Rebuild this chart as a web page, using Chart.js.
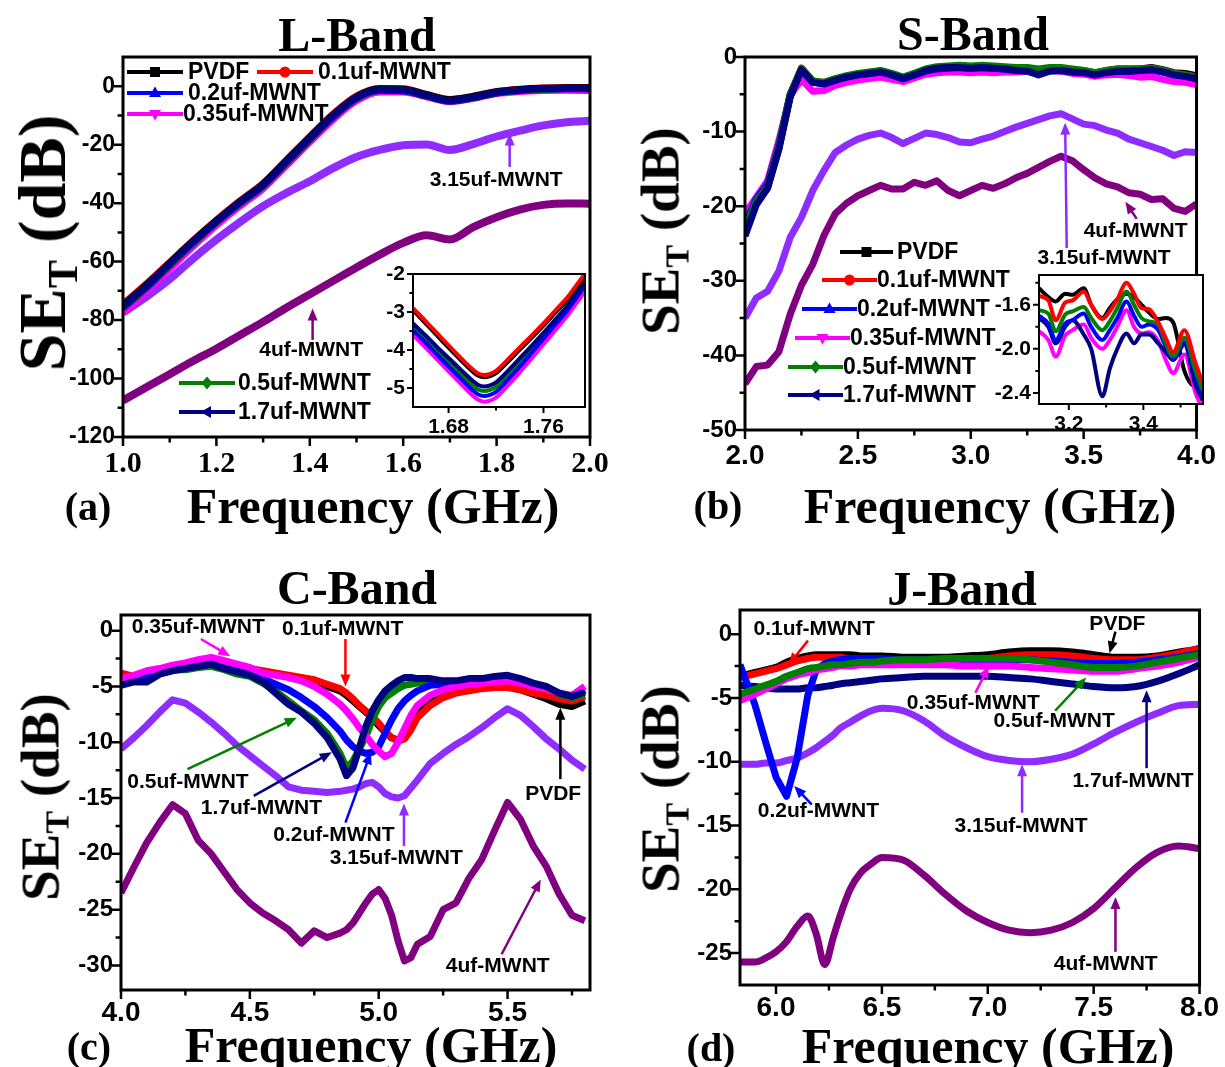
<!DOCTYPE html>
<html>
<head>
<meta charset="utf-8">
<script src="https://cdn.jsdelivr.net/npm/chart.js@4.4.1/dist/chart.umd.min.js"></script>
<style>
  body { margin: 0; background: #fff; }
  #page { position: relative; width: 1225px; height: 1067px; overflow: hidden; background: #fff; }
  canvas { position: absolute; left: 0; top: 0; }
  .t { position: absolute; font-family: "Liberation Serif", "Times New Roman", serif; font-weight: bold;
       color: #000; white-space: nowrap; line-height: 1; transform: translate(-50%, -50%); }
  .yt { transform: translate(-50%, -50%) rotate(-90deg); }
  .yt sub { font-size: 0.62em; vertical-align: -0.28em; line-height: 0; }
</style>
</head>
<body>
<div id="page">
  <canvas id="cA" width="1225" height="1067"></canvas>
  <canvas id="cB" width="1225" height="1067"></canvas>
  <canvas id="cC" width="1225" height="1067"></canvas>
  <canvas id="cD" width="1225" height="1067"></canvas>
  <canvas id="cAi" width="1225" height="1067"></canvas>
  <canvas id="cBi" width="1225" height="1067"></canvas>

  <div class="t" style="left:357px;top:35px;font-size:48px">L-Band</div>
  <div class="t" style="left:973px;top:34px;font-size:48px">S-Band</div>
  <div class="t" style="left:357px;top:588px;font-size:48px">C-Band</div>
  <div class="t" style="left:962px;top:589px;font-size:48px">J-Band</div>

  <div class="t" style="left:373px;top:506px;font-size:50px">Frequency (GHz)</div>
  <div class="t" style="left:990px;top:506px;font-size:50px">Frequency (GHz)</div>
  <div class="t" style="left:371px;top:1045px;font-size:50px">Frequency (GHz)</div>
  <div class="t" style="left:988px;top:1046px;font-size:50px">Frequency (GHz)</div>

  <div class="t" style="left:88px;top:507px;font-size:40px">(a)</div>
  <div class="t" style="left:718px;top:506px;font-size:40px">(b)</div>
  <div class="t" style="left:89px;top:1047px;font-size:40px">(c)</div>
  <div class="t" style="left:711px;top:1048px;font-size:40px">(d)</div>

  <div class="t yt" style="left:42px;top:243px;font-size:68px">SE<sub>T</sub> (dB)</div>
  <div class="t yt" style="left:660px;top:231px;font-size:55px">SE<sub>T</sub> (dB)</div>
  <div class="t yt" style="left:40px;top:797px;font-size:55px">SE<sub>T</sub> (dB)</div>
  <div class="t yt" style="left:660px;top:789px;font-size:55px">SE<sub>T</sub> (dB)</div>
</div>

<script>
// ---------- data ----------

// (a) L-Band
const aFreq = [1.00, 1.05, 1.10, 1.15, 1.20, 1.25, 1.30, 1.35, 1.40, 1.45, 1.50, 1.55, 1.60, 1.65, 1.70, 1.75, 1.80, 1.85, 1.90, 1.95, 2.00];
const aPVDF = [-75.0, -68.0, -60.5, -53.0, -46.0, -39.5, -33.5, -25.5, -17.5, -9.8, -3.6, -0.9, -1.0, -2.9, -4.6, -3.5, -1.9, -1.1, -0.7, -0.5, -0.5];
const a01 = [-74.5, -67.6, -60.2, -52.8, -45.8, -39.3, -33.2, -25.2, -17.2, -9.5, -3.4, -0.8, -0.9, -2.8, -4.5, -3.4, -1.8, -1.0, -0.6, -0.4, -0.4];
const a02 = [-76.0, -69.0, -61.3, -53.8, -46.6, -40.2, -34.2, -26.3, -18.3, -10.6, -4.3, -1.5, -1.6, -3.4, -5.1, -4.0, -2.3, -1.5, -1.1, -0.9, -0.9];
const a035 = [-77.5, -70.3, -62.5, -54.8, -47.6, -41.1, -35.0, -27.1, -19.1, -11.4, -5.0, -2.0, -2.0, -3.6, -5.3, -4.2, -2.5, -1.8, -1.5, -1.4, -1.5];
const a05 = [-75.8, -68.8, -61.1, -53.6, -46.5, -40.0, -34.0, -26.0, -18.0, -10.3, -4.1, -1.3, -1.4, -3.3, -5.0, -3.9, -2.2, -1.4, -1.0, -0.8, -0.8];
const a17 = [-75.5, -68.5, -60.8, -53.3, -46.3, -39.8, -33.8, -25.8, -17.8, -10.1, -3.9, -1.2, -1.3, -3.2, -4.9, -3.8, -2.1, -1.3, -0.9, -0.7, -0.7];
const a315 = [-77.5, -72.0, -66.0, -59.0, -52.5, -46.5, -41.0, -36.5, -32.5, -28.0, -24.2, -21.8, -20.2, -19.9, -21.8, -19.8, -17.2, -15.2, -13.4, -12.3, -11.8];
const a4 = [-107.5, -103.0, -98.5, -94.0, -89.8, -85.2, -80.6, -75.8, -71.2, -66.6, -62.0, -57.6, -53.6, -51.0, -52.4, -48.2, -44.8, -42.2, -40.6, -40.1, -40.2];

// (a) inset, dip near 1.71 GHz
const iaFreq = [1.65, 1.66, 1.67, 1.68, 1.69, 1.70, 1.705, 1.71, 1.715, 1.72, 1.73, 1.74, 1.75, 1.76, 1.77, 1.78, 1.79, 1.795];
const iaPVDF = [-2.95, -3.28, -3.61, -3.94, -4.26, -4.56, -4.68, -4.72, -4.69, -4.61, -4.31, -3.99, -3.68, -3.36, -3.02, -2.68, -2.26, -2.06];
const ia01 = [-2.90, -3.22, -3.55, -3.88, -4.20, -4.50, -4.62, -4.66, -4.63, -4.55, -4.25, -3.93, -3.62, -3.30, -2.96, -2.62, -2.20, -2.00];
const ia02 = [-3.48, -3.79, -4.11, -4.43, -4.74, -5.05, -5.17, -5.21, -5.18, -5.10, -4.78, -4.44, -4.07, -3.70, -3.33, -2.96, -2.53, -2.30];
const ia035 = [-3.60, -3.92, -4.24, -4.56, -4.88, -5.19, -5.31, -5.36, -5.33, -5.25, -4.93, -4.59, -4.22, -3.85, -3.48, -3.10, -2.67, -2.45];
const ia05 = [-3.40, -3.70, -4.01, -4.32, -4.62, -4.92, -5.04, -5.08, -5.05, -4.97, -4.66, -4.33, -3.99, -3.65, -3.29, -2.93, -2.51, -2.30];
const ia17 = [-3.30, -3.60, -3.91, -4.21, -4.51, -4.80, -4.92, -4.96, -4.93, -4.85, -4.55, -4.22, -3.89, -3.55, -3.20, -2.84, -2.42, -2.20];

// (b) S-Band
const bFreq = [2.00, 2.05, 2.10, 2.15, 2.20, 2.25, 2.30, 2.35, 2.40, 2.45, 2.50, 2.55, 2.60, 2.65, 2.70, 2.75, 2.80, 2.85, 2.90, 2.95,
               3.00, 3.05, 3.10, 3.15, 3.20, 3.25, 3.30, 3.35, 3.40, 3.45, 3.50, 3.55, 3.60, 3.65, 3.70, 3.75, 3.80, 3.85, 3.90, 3.95, 4.00];
const bPVDF = [-23.5, -19.5, -17.5, -12.2, -5.3, -1.6, -3.3, -3.5, -3.0, -2.6, -2.3, -2.1, -1.9, -2.3, -2.8, -2.3, -1.7, -1.4, -1.3, -1.2,
               -1.3, -1.2, -1.3, -1.4, -1.5, -1.5, -1.8, -1.6, -1.6, -1.8, -1.9, -2.2, -1.8, -1.6, -1.6, -1.6, -1.4, -1.7, -2.1, -2.2, -2.5];
const b01 = [-23.0, -19.2, -17.2, -12.0, -5.0, -1.5, -3.2, -3.4, -3.0, -2.6, -2.3, -2.1, -1.9, -2.3, -2.8, -2.2, -1.7, -1.4, -1.3, -1.2,
             -1.3, -1.2, -1.3, -1.4, -1.5, -1.5, -1.8, -1.5, -1.5, -1.7, -1.8, -2.1, -1.9, -1.7, -1.7, -1.6, -1.5, -1.8, -2.2, -2.4, -2.7];
const b02 = [-22.5, -19.0, -17.0, -11.8, -5.0, -1.7, -3.4, -3.6, -3.1, -2.7, -2.4, -2.2, -2.0, -2.4, -2.9, -2.4, -1.9, -1.6, -1.5, -1.4,
             -1.5, -1.4, -1.5, -1.6, -1.7, -1.7, -2.0, -1.8, -1.8, -1.9, -2.0, -2.3, -2.0, -1.9, -1.9, -1.8, -1.7, -2.0, -2.4, -2.6, -2.9];
const b035 = [-21.0, -18.8, -16.6, -11.2, -5.2, -3.0, -4.6, -4.5, -3.8, -3.4, -3.1, -2.9, -2.7, -3.0, -3.3, -2.8, -2.3, -2.1, -2.0, -2.0,
              -2.1, -2.0, -2.1, -2.0, -2.0, -1.9, -2.1, -1.8, -1.9, -2.2, -2.3, -2.6, -2.4, -2.3, -2.5, -2.7, -2.6, -3.0, -3.3, -3.4, -3.7];
const b05 = [-23.0, -19.3, -17.4, -12.0, -5.1, -1.5, -3.2, -3.4, -2.9, -2.5, -2.2, -2.0, -1.8, -2.2, -2.7, -2.2, -1.6, -1.3, -1.2, -1.1,
             -1.2, -1.1, -1.2, -1.3, -1.4, -1.4, -1.6, -1.4, -1.4, -1.6, -1.8, -2.1, -1.8, -1.6, -1.6, -1.6, -1.5, -1.8, -2.2, -2.4, -2.7];
const b17 = [-24.0, -19.8, -17.6, -12.4, -5.4, -1.7, -3.4, -3.6, -3.1, -2.7, -2.4, -2.2, -2.0, -2.4, -2.9, -2.4, -1.8, -1.5, -1.4, -1.4,
             -1.5, -1.4, -1.5, -1.6, -1.8, -1.9, -2.4, -1.9, -1.8, -2.0, -2.1, -2.4, -2.1, -1.9, -1.9, -1.8, -1.7, -2.0, -2.4, -2.6, -2.9];
const b315 = [-35.0, -32.3, -31.4, -28.7, -24.2, -21.5, -17.9, -15.2, -12.8, -11.8, -11.0, -10.5, -10.2, -10.8, -11.6, -10.9, -10.2, -10.4, -10.8, -11.4,
              -11.5, -11.0, -10.6, -10.0, -9.4, -8.9, -8.4, -7.9, -7.6, -8.3, -9.0, -9.2, -9.8, -10.2, -11.0, -11.5, -12.0, -12.5, -13.2, -12.7, -12.8];
const b4 = [-43.8, -41.5, -41.3, -39.5, -34.5, -30.6, -27.8, -23.9, -21.0, -19.6, -18.6, -17.9, -17.2, -17.7, -17.7, -16.8, -17.2, -16.6, -17.9, -18.6,
            -17.9, -17.2, -17.6, -17.0, -16.2, -15.6, -14.8, -14.0, -13.3, -13.9, -15.1, -16.2, -17.0, -17.4, -18.2, -18.4, -19.1, -19.0, -20.3, -20.7, -19.7];

// (b) inset, 3.12 - 3.56 GHz
const ibFreq = [3.12, 3.145, 3.165, 3.19, 3.21, 3.24, 3.26, 3.29, 3.31, 3.33, 3.355, 3.375, 3.395, 3.415, 3.44, 3.46, 3.48, 3.51, 3.54, 3.56];
const ibPVDF = [-1.45, -1.53, -1.57, -1.50, -1.51, -1.45, -1.60, -1.72, -1.63, -1.55, -1.50, -1.53, -1.60, -1.67, -1.73, -1.72, -1.76, -2.20, -2.34, -2.31];
const ib01 = [-1.52, -1.56, -1.74, -1.58, -1.56, -1.48, -1.60, -1.73, -1.66, -1.55, -1.40, -1.50, -1.63, -1.64, -1.76, -1.90, -2.03, -1.83, -2.13, -2.32];
const ib02 = [-1.70, -1.77, -1.92, -1.77, -1.74, -1.68, -1.80, -1.92, -1.83, -1.72, -1.57, -1.70, -1.80, -1.78, -1.83, -1.98, -2.10, -1.94, -2.24, -2.44];
const ib035 = [-1.84, -1.92, -2.07, -1.88, -1.83, -1.78, -1.90, -2.00, -1.92, -1.80, -1.65, -1.80, -1.86, -1.85, -1.93, -2.10, -2.22, -2.05, -2.40, -2.55];
const ib05 = [-1.65, -1.68, -1.84, -1.69, -1.66, -1.62, -1.72, -1.83, -1.75, -1.63, -1.48, -1.60, -1.72, -1.75, -1.78, -1.95, -2.07, -1.90, -2.20, -2.38];
const ib17 = [-1.72, -1.80, -1.95, -1.80, -1.74, -1.87, -2.00, -2.43, -2.18, -2.00, -1.86, -1.95, -1.87, -1.87, -1.95, -2.03, -2.10, -1.96, -2.33, -2.47];

// (c) C-Band
const cFreq = [4.00, 4.05, 4.10, 4.15, 4.20, 4.25, 4.30, 4.35, 4.40, 4.45, 4.50, 4.55, 4.60, 4.65, 4.70, 4.75, 4.80, 4.85,
               4.875, 4.90, 4.925, 4.95, 4.975, 5.00, 5.025, 5.05, 5.075, 5.10, 5.125, 5.15,
               5.20, 5.25, 5.30, 5.35, 5.40, 5.45, 5.50, 5.55, 5.60, 5.65, 5.70, 5.75, 5.80];
const cPVDF = [-3.9, -4.2, -3.9, -3.7, -3.5, -3.3, -3.2, -3.1, -3.3, -3.5, -3.5, -3.7, -3.9, -4.1, -4.3, -4.6, -5.0, -5.4,
               -5.8, -6.3, -6.8, -7.3, -7.8, -8.5, -9.1, -9.6, -9.8, -9.4, -8.5, -7.5,
               -6.4, -5.8, -5.5, -5.3, -5.1, -5.0, -5.0, -5.3, -5.7, -6.1, -6.6, -6.8, -6.3];
const c01 = [-3.8, -4.1, -3.8, -3.6, -3.4, -3.2, -3.1, -3.0, -3.2, -3.4, -3.4, -3.6, -3.8, -4.0, -4.2, -4.4, -4.8, -5.2,
             -5.6, -6.1, -6.7, -7.2, -7.7, -8.3, -9.0, -9.6, -9.9, -9.7, -8.9, -7.8,
             -6.7, -6.0, -5.6, -5.4, -5.2, -5.1, -5.1, -5.3, -5.6, -5.8, -6.1, -6.3, -5.9];
const c02 = [-4.5, -4.3, -4.0, -3.7, -3.4, -3.3, -3.2, -3.0, -3.3, -3.6, -3.9, -4.3, -4.8, -5.3, -6.0, -6.8, -7.8, -9.0,
             -9.8, -10.4, -10.8, -11.0, -10.9, -10.4, -9.2, -8.0, -7.0, -6.3, -5.8, -5.4,
             -4.9, -4.8, -4.7, -4.6, -4.5, -4.4, -4.3, -4.5, -4.8, -5.1, -5.6, -5.9, -5.3];
const c035 = [-4.3, -4.0, -3.6, -3.4, -3.1, -2.9, -2.6, -2.4, -2.7, -3.0, -3.3, -3.8, -4.0, -4.2, -4.5, -5.0, -5.7, -6.6,
              -7.2, -7.9, -8.7, -9.4, -10.2, -10.8, -11.3, -11.0, -10.0, -8.8, -7.6, -6.7,
              -5.8, -5.3, -5.0, -4.8, -4.7, -4.6, -4.5, -4.7, -5.0, -5.2, -5.6, -5.8, -5.0];
const c05 = [-4.6, -4.5, -4.4, -3.8, -3.5, -3.5, -3.3, -3.2, -3.5, -3.9, -4.1, -4.7, -5.4, -6.3, -7.2, -8.0, -9.2, -11.0,
             -12.3, -11.7, -10.6, -9.5, -8.0, -6.8, -6.0, -5.6, -5.2, -4.9, -4.8, -4.7,
             -4.6, -4.7, -4.6, -4.5, -4.4, -4.3, -4.3, -4.5, -4.8, -5.1, -5.7, -6.0, -5.7];
const c17 = [-4.9, -4.6, -4.6, -3.9, -3.6, -3.4, -3.2, -3.0, -3.4, -3.7, -4.0, -4.6, -5.6, -6.6, -7.3, -8.3, -9.6, -11.5,
             -13.0, -12.3, -10.5, -8.6, -7.2, -6.2, -5.4, -4.9, -4.5, -4.2, -4.2, -4.3,
             -4.3, -4.5, -4.5, -4.3, -4.3, -4.1, -4.0, -4.3, -4.7, -5.0, -5.6, -5.9, -5.5];
const c315 = [-10.6, -9.6, -8.5, -7.3, -6.2, -6.5, -7.3, -8.2, -9.2, -10.3, -11.2, -12.1, -13.0, -14.0, -14.3, -14.4, -14.5, -14.4,
              -14.3, -14.2, -14.0, -13.7, -13.6, -14.0, -14.6, -14.9, -15.0, -14.8, -14.1, -13.4,
              -11.9, -11.0, -10.2, -9.5, -8.7, -7.8, -7.0, -7.6, -8.6, -9.7, -10.6, -11.6, -12.4];
const c4 = [-23.5, -21.2, -19.0, -17.2, -15.6, -16.4, -18.8, -20.0, -21.6, -23.2, -24.4, -25.3, -26.0, -26.8, -28.0, -26.9, -27.5, -27.1,
            -26.8, -26.2, -25.3, -24.4, -23.6, -23.2, -24.0, -25.5, -27.8, -29.6, -29.3, -28.1,
            -27.4, -25.0, -24.4, -22.2, -20.5, -17.9, -15.4, -16.9, -19.3, -21.1, -23.6, -25.5, -26.0];

// (d) J-Band
const dFreq = [5.83, 5.90, 5.95, 6.00, 6.05, 6.10, 6.15, 6.19, 6.23, 6.27, 6.30, 6.35, 6.40, 6.45, 6.50,
               6.60, 6.70, 6.80, 6.90, 7.00, 7.10, 7.20, 7.30, 7.40, 7.50, 7.60, 7.70, 7.80, 7.90, 8.00];
const dPVDF = [-3.3, -3.0, -2.8, -2.6, -2.2, -1.9, -1.7, -1.6, -1.6, -1.6, -1.6, -1.6, -1.7, -1.7, -1.7,
               -1.8, -1.8, -1.8, -1.7, -1.6, -1.4, -1.3, -1.3, -1.4, -1.6, -1.8, -1.8, -1.7, -1.4, -1.2];
const d01 = [-3.4, -3.1, -2.9, -2.7, -2.4, -2.1, -1.9, -1.8, -1.8, -1.8, -1.8, -1.9, -1.9, -2.0, -2.0,
             -2.1, -2.1, -2.1, -2.0, -1.9, -1.7, -1.6, -1.6, -1.7, -1.9, -2.0, -2.0, -1.8, -1.5, -1.1];
const d02 = [-2.4, -5.5, -8.4, -11.2, -12.7, -9.7, -4.8, -2.8, -2.3, -2.1, -2.0, -1.9, -1.9, -1.9, -1.9,
             -2.0, -2.0, -2.1, -2.1, -2.1, -2.0, -2.0, -2.1, -2.2, -2.3, -2.3, -2.2, -2.0, -1.8, -1.5];
const d035 = [-5.2, -4.7, -4.3, -3.9, -3.5, -3.2, -3.0, -2.8, -2.7, -2.6, -2.5, -2.5, -2.4, -2.4, -2.4,
              -2.4, -2.4, -2.4, -2.5, -2.5, -2.5, -2.6, -2.7, -2.8, -2.9, -2.9, -2.7, -2.5, -2.2, -1.8];
const d05 = [-4.7, -4.3, -4.0, -3.7, -3.3, -3.0, -2.7, -2.6, -2.5, -2.4, -2.4, -2.3, -2.2, -2.2, -2.1,
             -2.0, -2.0, -1.9, -1.9, -1.9, -1.9, -2.0, -2.2, -2.4, -2.6, -2.6, -2.5, -2.2, -1.9, -1.6];
const d17 = [-4.0, -4.1, -4.2, -4.3, -4.3, -4.3, -4.2, -4.2, -4.1, -4.0, -3.9, -3.8, -3.7, -3.6, -3.5,
             -3.4, -3.3, -3.3, -3.3, -3.3, -3.4, -3.5, -3.7, -3.9, -4.1, -4.2, -4.1, -3.7, -3.1, -2.4];
const d315 = [-10.2, -10.2, -10.1, -10.1, -9.9, -9.7, -9.3, -8.9, -8.4, -7.9, -7.4, -6.9, -6.4, -6.0, -5.8,
              -6.0, -6.8, -8.0, -8.9, -9.6, -9.9, -10.0, -9.8, -9.4, -8.6, -7.7, -6.9, -6.2, -5.6, -5.5];
const d4 = [-25.7, -25.7, -25.4, -24.9, -24.1, -22.9, -22.1, -23.5, -25.9, -23.8, -22.2, -20.0, -18.7, -18.0, -17.5,
            -17.7, -18.9, -20.4, -21.7, -22.6, -23.2, -23.4, -23.2, -22.6, -21.5, -19.9, -18.3, -17.1, -16.6, -16.8];

// ---------- styles ----------
const W = 1225, H = 1067;
const SANS = '"Liberation Sans", Arial, sans-serif';
const SERIF = '"Liberation Serif", "Times New Roman", serif';
const C = {
  pvdf: '#000000', m01: '#ff0000', m02: '#0000ff', m035: '#ff00ff',
  m05: '#008000', m17: '#000080', m315: '#8f2cff', m4: '#800080'
};

function series(label, xs, ys, color, width, order, smooth) {
  return {
    label,
    data: xs.map((x, i) => ({ x, y: ys[i] })),
    borderColor: color,
    backgroundColor: color,
    borderWidth: width,
    pointRadius: 0,
    order,
    fill: false,
    borderJoinStyle: 'round',
    cubicInterpolationMode: smooth ? 'monotone' : 'default',
    tension: 0
  };
}

function marker(ctx, style, x, y, r, color) {
  ctx.fillStyle = color;
  ctx.beginPath();
  if (style === 'square') ctx.rect(x - r, y - r, 2 * r, 2 * r);
  else if (style === 'circle') ctx.arc(x, y, r * 1.1, 0, Math.PI * 2);
  else if (style === 'up') { ctx.moveTo(x, y - r * 1.3); ctx.lineTo(x + r * 1.2, y + r * 0.8); ctx.lineTo(x - r * 1.2, y + r * 0.8); }
  else if (style === 'down') { ctx.moveTo(x, y + r * 1.3); ctx.lineTo(x + r * 1.2, y - r * 0.8); ctx.lineTo(x - r * 1.2, y - r * 0.8); }
  else if (style === 'diamond') { ctx.moveTo(x, y - r * 1.3); ctx.lineTo(x + r * 1.1, y); ctx.lineTo(x, y + r * 1.3); ctx.lineTo(x - r * 1.1, y); }
  else if (style === 'left') { ctx.moveTo(x - r * 1.3, y); ctx.lineTo(x + r * 0.8, y - r * 1.2); ctx.lineTo(x + r * 0.8, y + r * 1.2); }
  ctx.closePath();
  ctx.fill();
}

function arrow(ctx, x1, y1, x2, y2, color) {
  const ang = Math.atan2(y2 - y1, x2 - x1);
  const hl = 12, hw = 5;
  ctx.strokeStyle = color;
  ctx.fillStyle = color;
  ctx.lineWidth = 2.5;
  ctx.beginPath();
  ctx.moveTo(x1, y1);
  ctx.lineTo(x2 - Math.cos(ang) * hl * 0.8, y2 - Math.sin(ang) * hl * 0.8);
  ctx.stroke();
  ctx.beginPath();
  ctx.moveTo(x2, y2);
  ctx.lineTo(x2 - Math.cos(ang) * hl + Math.sin(ang) * hw, y2 - Math.sin(ang) * hl - Math.cos(ang) * hw);
  ctx.lineTo(x2 - Math.cos(ang) * hl - Math.sin(ang) * hw, y2 - Math.sin(ang) * hl + Math.cos(ang) * hw);
  ctx.closePath();
  ctx.fill();
}

function makeChart(id, cfg) {
  const a = cfg.area;
  const deco = {
    id: 'deco',
    beforeDraw(chart) {
      if (!cfg.inset) return;
      const ctx = chart.ctx, ca = chart.chartArea;
      ctx.save();
      ctx.fillStyle = '#fff';
      ctx.fillRect(ca.left, ca.top, ca.right - ca.left, ca.bottom - ca.top);
      ctx.restore();
    },
    afterDatasetsDraw(chart) {
      const ctx = chart.ctx, ca = chart.chartArea;
      const xs = chart.scales.x, ys = chart.scales.y;
      ctx.save();
      ctx.strokeStyle = '#000';
      ctx.lineWidth = cfg.frame;
      ctx.strokeRect(ca.left, ca.top, ca.right - ca.left, ca.bottom - ca.top);
      ctx.lineWidth = cfg.tickW;
      ctx.beginPath();
      const tick = (list, len, isX) => list.forEach(v => {
        if (isX) { const px = xs.getPixelForValue(v); ctx.moveTo(px, ca.bottom); ctx.lineTo(px, ca.bottom + len); }
        else { const py = ys.getPixelForValue(v); ctx.moveTo(ca.left, py); ctx.lineTo(ca.left - len, py); }
      });
      tick(cfg.x.major, cfg.tickLen, true);
      tick(cfg.x.minor, cfg.tickLen * 0.6, true);
      tick(cfg.y.major, cfg.tickLen, false);
      tick(cfg.y.minor, cfg.tickLen * 0.6, false);
      ctx.stroke();
      ctx.restore();
    },
    afterDraw(chart) {
      const ctx = chart.ctx;
      const xs = chart.scales.x, ys = chart.scales.y;
      ctx.save();
      ctx.textBaseline = 'middle';
      (cfg.legend || []).forEach(it => {
        const col = C[it.key];
        ctx.strokeStyle = col;
        ctx.lineWidth = 4;
        ctx.beginPath();
        ctx.moveTo(it.x1, it.y);
        ctx.lineTo(it.x2, it.y);
        ctx.stroke();
        marker(ctx, it.style, (it.x1 + it.x2) / 2, it.y, 5, col);
        ctx.fillStyle = '#000';
        ctx.font = 'bold 23px ' + SANS;
        ctx.textAlign = 'left';
        ctx.fillText(it.text, it.tx, it.y + 1);
      });
      (cfg.notes || []).forEach(n => {
        arrow(ctx, xs.getPixelForValue(n.from[0]), ys.getPixelForValue(n.from[1]),
              xs.getPixelForValue(n.to[0]), ys.getPixelForValue(n.to[1]), C[n.key]);
        ctx.fillStyle = '#000';
        ctx.font = 'bold 21px ' + SANS;
        ctx.textAlign = 'center';
        ctx.fillText(n.text, xs.getPixelForValue(n.x), ys.getPixelForValue(n.y));
      });
      ctx.restore();
    }
  };
  return new Chart(document.getElementById(id), {
    type: 'line',
    data: { datasets: cfg.datasets },
    options: {
      responsive: false,
      animation: false,
      events: [],
      layout: { padding: { left: a.l - cfg.yW, top: a.t, right: W - a.r, bottom: H - a.b - cfg.xH } },
      plugins: { legend: { display: false }, tooltip: { enabled: false } },
      scales: {
        x: {
          type: 'linear', min: cfg.x.min, max: cfg.x.max,
          grid: { display: false, drawTicks: false }, border: { display: false },
          ticks: { font: { family: cfg.x.family, size: cfg.x.size, weight: 'bold' }, color: '#000',
                   padding: cfg.x.pad, autoSkip: false, maxRotation: 0, callback: v => v.toFixed(cfg.x.dec) },
          afterBuildTicks: s => { s.ticks = cfg.x.major.map(v => ({ value: v })); },
          afterFit: s => { s.height = cfg.xH; }
        },
        y: {
          type: 'linear', min: cfg.y.min, max: cfg.y.max,
          grid: { display: false, drawTicks: false }, border: { display: false },
          ticks: { font: { family: SANS, size: cfg.y.size, weight: 'bold' }, color: '#000',
                   padding: cfg.y.pad, autoSkip: false, callback: v => v.toFixed(cfg.y.dec) },
          afterBuildTicks: s => { s.ticks = cfg.y.major.map(v => ({ value: v })); },
          afterFit: s => { s.width = cfg.yW; }
        }
      }
    },
    plugins: [deco]
  });
}

const MAIN = { yW: 100, xH: 50, frame: 3, tickW: 2.5, tickLen: 9 };
const INSET = { yW: 50, xH: 35, frame: 2, tickW: 2, tickLen: 6, inset: true };

// (a) L-Band
makeChart('cA', Object.assign({}, MAIN, {
  area: { l: 123, r: 590, t: 57, b: 437 },
  x: { min: 1.0, max: 2.0, major: [1.0, 1.2, 1.4, 1.6, 1.8, 2.0], minor: [1.1, 1.3, 1.5, 1.7, 1.9],
       dec: 1, family: SERIF, size: 30, pad: 9 },
  y: { min: -120, max: 10, major: [-120, -100, -80, -60, -40, -20, 0], minor: [-110, -90, -70, -50, -30, -10],
       dec: 0, size: 23, pad: 8 },
  datasets: [
    series('PVDF', aFreq, aPVDF, C.pvdf, 7, 3, true),
    series('0.1uf-MWNT', aFreq, a01, C.m01, 7, 4, true),
    series('0.2uf-MWNT', aFreq, a02, C.m02, 7, 2, true),
    series('0.35uf-MWNT', aFreq, a035, C.m035, 7, 5, true),
    series('0.5uf-MWNT', aFreq, a05, C.m05, 7, 1, true),
    series('1.7uf-MWNT', aFreq, a17, C.m17, 7, 0, true),
    series('3.15uf-MWNT', aFreq, a315, C.m315, 8, 6, true),
    series('4uf-MWNT', aFreq, a4, C.m4, 8, 7, true)
  ],
  legend: [
    { key: 'pvdf', style: 'square', x1: 127, x2: 183, y: 72, tx: 188, text: 'PVDF' },
    { key: 'm01', style: 'circle', x1: 257, x2: 313, y: 72, tx: 318, text: '0.1uf-MWNT' },
    { key: 'm02', style: 'up', x1: 127, x2: 183, y: 93, tx: 188, text: '0.2uf-MWNT' },
    { key: 'm035', style: 'down', x1: 127, x2: 183, y: 114, tx: 183, text: '0.35uf-MWNT' },
    { key: 'm05', style: 'diamond', x1: 179, x2: 235, y: 383, tx: 238, text: '0.5uf-MWNT' },
    { key: 'm17', style: 'left', x1: 179, x2: 235, y: 412, tx: 238, text: '1.7uf-MWNT' }
  ],
  notes: [
    { text: '3.15uf-MWNT', key: 'm315', x: 1.799, y: -32.3, from: [1.828, -27.6], to: [1.828, -16.2] },
    { text: '4uf-MWNT', key: 'm4', x: 1.403, y: -90.4, from: [1.406, -86.8], to: [1.406, -76.0] }
  ]
}));

// (b) S-Band
makeChart('cB', Object.assign({}, MAIN, {
  area: { l: 745, r: 1205, t: 57, b: 430 },
  x: { min: 2.0, max: 4.0, major: [2.0, 2.5, 3.0, 3.5, 4.0], minor: [2.25, 2.75, 3.25, 3.75],
       dec: 1, family: SANS, size: 28, pad: 9 },
  y: { min: -50, max: 0, major: [-50, -40, -30, -20, -10, 0], minor: [-45, -35, -25, -15, -5],
       dec: 0, size: 24, pad: 8 },
  datasets: [
    series('PVDF', bFreq, bPVDF, C.pvdf, 7, 4, false),
    series('0.1uf-MWNT', bFreq, b01, C.m01, 7, 3, false),
    series('0.2uf-MWNT', bFreq, b02, C.m02, 7, 2, false),
    series('0.35uf-MWNT', bFreq, b035, C.m035, 7, 5, false),
    series('0.5uf-MWNT', bFreq, b05, C.m05, 7, 1, false),
    series('1.7uf-MWNT', bFreq, b17, C.m17, 7, 0, false),
    series('3.15uf-MWNT', bFreq, b315, C.m315, 7, 6, false),
    series('4uf-MWNT', bFreq, b4, C.m4, 7, 7, false)
  ],
  legend: [
    { key: 'pvdf', style: 'square', x1: 840, x2: 893, y: 252, tx: 897, text: 'PVDF' },
    { key: 'm01', style: 'circle', x1: 822, x2: 877, y: 280, tx: 877, text: '0.1uf-MWNT' },
    { key: 'm02', style: 'up', x1: 802, x2: 857, y: 309, tx: 857, text: '0.2uf-MWNT' },
    { key: 'm035', style: 'down', x1: 795, x2: 850, y: 338, tx: 850, text: '0.35uf-MWNT' },
    { key: 'm05', style: 'diamond', x1: 788, x2: 843, y: 367, tx: 843, text: '0.5uf-MWNT' },
    { key: 'm17', style: 'left', x1: 788, x2: 843, y: 395, tx: 843, text: '1.7uf-MWNT' }
  ],
  notes: [
    { text: '4uf-MWNT', key: 'm4', x: 3.73, y: -23.4, from: [3.735, -21.7], to: [3.685, -19.4] },
    { text: '3.15uf-MWNT', key: 'm315', x: 3.59, y: -27.0, from: [3.425, -25.6], to: [3.418, -8.8] }
  ]
}));

// (c) C-Band
makeChart('cC', Object.assign({}, MAIN, {
  area: { l: 121, r: 590, t: 615, b: 990 },
  x: { min: 4.0, max: 5.82, major: [4.0, 4.5, 5.0, 5.5], minor: [4.25, 4.75, 5.25, 5.75],
       dec: 1, family: SANS, size: 28, pad: 6 },
  y: { min: -32.2, max: 1.4, major: [-30, -25, -20, -15, -10, -5, 0], minor: [-27.5, -22.5, -17.5, -12.5, -7.5, -2.5],
       dec: 0, size: 24, pad: 8 },
  datasets: [
    series('PVDF', cFreq, cPVDF, C.pvdf, 7, 5, false),
    series('0.1uf-MWNT', cFreq, c01, C.m01, 7, 4, false),
    series('0.2uf-MWNT', cFreq, c02, C.m02, 7, 2, false),
    series('0.35uf-MWNT', cFreq, c035, C.m035, 7, 1, false),
    series('0.5uf-MWNT', cFreq, c05, C.m05, 7, 3, false),
    series('1.7uf-MWNT', cFreq, c17, C.m17, 7, 0, false),
    series('3.15uf-MWNT', cFreq, c315, C.m315, 7, 6, false),
    series('4uf-MWNT', cFreq, c4, C.m4, 7, 7, false)
  ],
  notes: [
    { text: '0.35uf-MWNT', key: 'm035', x: 4.30, y: 0.3, from: [4.31, -0.75], to: [4.424, -2.3] },
    { text: '0.1uf-MWNT', key: 'm01', x: 4.86, y: 0.15, from: [4.871, -0.75], to: [4.871, -5.0] },
    { text: '0.5uf-MWNT', key: 'm05', x: 4.26, y: -13.6, from: [4.258, -12.4], to: [4.682, -7.8] },
    { text: '1.7uf-MWNT', key: 'm17', x: 4.545, y: -15.9, from: [4.515, -14.8], to: [4.818, -10.9] },
    { text: '0.2uf-MWNT', key: 'm02', x: 4.826, y: -18.3, from: [4.871, -17.2], to: [4.97, -10.9] },
    { text: '3.15uf-MWNT', key: 'm315', x: 5.068, y: -20.4, from: [5.098, -19.3], to: [5.098, -15.5] },
    { text: 'PVDF', key: 'pvdf', x: 5.677, y: -14.7, from: [5.705, -13.3], to: [5.705, -6.9] },
    { text: '4uf-MWNT', key: 'm4', x: 5.462, y: -30.1, from: [5.477, -29.0], to: [5.629, -22.3] }
  ]
}));

// (d) J-Band
makeChart('cD', Object.assign({}, MAIN, {
  area: { l: 740, r: 1203, t: 610, b: 985 },
  x: { min: 5.83, max: 8.0, major: [6.0, 6.5, 7.0, 7.5, 8.0], minor: [6.25, 6.75, 7.25, 7.75],
       dec: 1, family: SANS, size: 28, pad: 6 },
  y: { min: -27.5, max: 1.9, major: [-25, -20, -15, -10, -5, 0], minor: [-22.5, -17.5, -12.5, -7.5, -2.5],
       dec: 0, size: 24, pad: 8 },
  datasets: [
    series('PVDF', dFreq, dPVDF, C.pvdf, 7, 4, true),
    series('0.1uf-MWNT', dFreq, d01, C.m01, 7, 3, true),
    series('0.2uf-MWNT', dFreq, d02, C.m02, 7, 2, false),
    series('0.35uf-MWNT', dFreq, d035, C.m035, 7, 1, true),
    series('0.5uf-MWNT', dFreq, d05, C.m05, 7, 0, true),
    series('1.7uf-MWNT', dFreq, d17, C.m17, 7, 5, true),
    series('3.15uf-MWNT', dFreq, d315, C.m315, 7, 6, true),
    series('4uf-MWNT', dFreq, d4, C.m4, 7, 7, true)
  ],
  notes: [
    { text: '0.1uf-MWNT', key: 'm01', x: 6.18, y: 0.4, from: [6.151, -0.5], to: [6.059, -2.4] },
    { text: 'PVDF', key: 'pvdf', x: 7.612, y: 0.8, from: [7.603, 0.2], to: [7.575, -1.5] },
    { text: '0.35uf-MWNT', key: 'm035', x: 6.932, y: -5.4, from: [6.941, -4.6], to: [7.006, -2.5] },
    { text: '0.5uf-MWNT', key: 'm05', x: 7.313, y: -6.8, from: [7.318, -6.0], to: [7.465, -3.4] },
    { text: '1.7uf-MWNT', key: 'm17', x: 7.686, y: -11.5, from: [7.75, -10.5], to: [7.75, -4.4] },
    { text: '0.2uf-MWNT', key: 'm02', x: 6.2, y: -13.9, from: [6.169, -13.35], to: [6.086, -11.9] },
    { text: '3.15uf-MWNT', key: 'm315', x: 7.157, y: -15.05, from: [7.162, -14.0], to: [7.162, -10.2] },
    { text: '4uf-MWNT', key: 'm4', x: 7.557, y: -25.9, from: [7.603, -24.9], to: [7.603, -20.6] }
  ]
}));

// (a) inset
makeChart('cAi', Object.assign({}, INSET, {
  area: { l: 413, r: 585, t: 274, b: 407 },
  x: { min: 1.65, max: 1.795, major: [1.68, 1.76], minor: [1.72], dec: 2, family: SANS, size: 21, pad: 8 },
  y: { min: -5.5, max: -2, major: [-5, -4, -3, -2], minor: [-4.5, -3.5, -2.5], dec: 0, size: 21, pad: 8 },
  datasets: [
    series('PVDF', iaFreq, iaPVDF, C.pvdf, 4, 1, true),
    series('0.1uf-MWNT', iaFreq, ia01, C.m01, 4, 0, true),
    series('0.2uf-MWNT', iaFreq, ia02, C.m02, 4, 3, true),
    series('0.35uf-MWNT', iaFreq, ia035, C.m035, 4, 5, true),
    series('0.5uf-MWNT', iaFreq, ia05, C.m05, 4, 4, true),
    series('1.7uf-MWNT', iaFreq, ia17, C.m17, 4, 2, true)
  ]
}));

// (b) inset
makeChart('cBi', Object.assign({}, INSET, {
  area: { l: 1039, r: 1203, t: 275, b: 404 },
  x: { min: 3.12, max: 3.56, major: [3.2, 3.4], minor: [3.3, 3.5], dec: 1, family: SANS, size: 21, pad: 8 },
  y: { min: -2.5, max: -1.33, major: [-2.4, -2.0, -1.6], minor: [-2.2, -1.8, -1.4], dec: 1, size: 21, pad: 8 },
  datasets: [
    series('PVDF', ibFreq, ibPVDF, C.pvdf, 4, 5, true),
    series('0.1uf-MWNT', ibFreq, ib01, C.m01, 4, 0, true),
    series('0.2uf-MWNT', ibFreq, ib02, C.m02, 4, 2, true),
    series('0.35uf-MWNT', ibFreq, ib035, C.m035, 4, 4, true),
    series('0.5uf-MWNT', ibFreq, ib05, C.m05, 4, 1, true),
    series('1.7uf-MWNT', ibFreq, ib17, C.m17, 4, 3, true)
  ]
}));
</script>
</body>
</html>
